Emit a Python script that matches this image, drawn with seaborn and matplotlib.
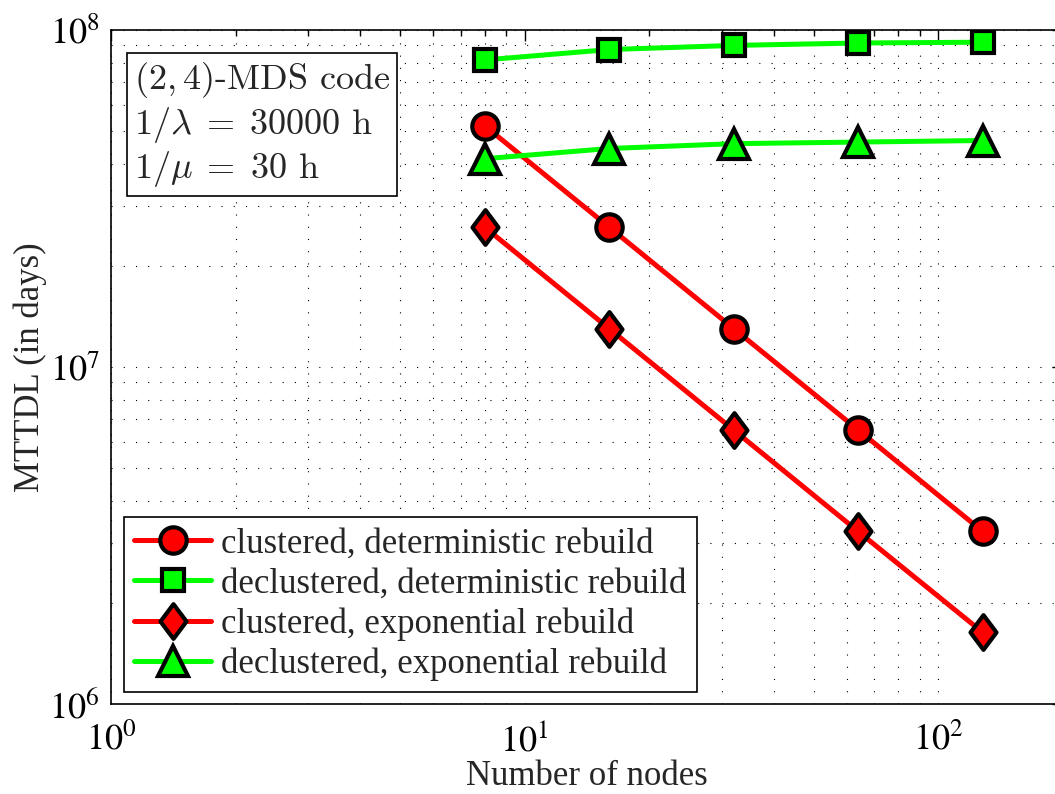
import numpy as np
import pandas as pd
import seaborn as sns
import matplotlib
matplotlib.use("Agg")
import matplotlib.pyplot as plt
from matplotlib.path import Path
from matplotlib.ticker import LogLocator, FuncFormatter, NullFormatter

# Number of nodes
nodes = [8, 16, 32, 64, 128]

# MTTDL in days for each configuration
clustered_det = [5.2e7, 2.6e7, 1.3e7, 6.5e6, 3.25e6]
declustered_det = [8.15e7, 8.75e7, 9.0e7, 9.15e7, 9.2e7]
clustered_exp = [2.6e7, 1.3e7, 6.5e6, 3.25e6, 1.63e6]
declustered_exp = [4.15e7, 4.45e7, 4.6e7, 4.65e7, 4.7e7]

labels = [
    "clustered, deterministic rebuild",
    "declustered, deterministic rebuild",
    "clustered, exponential rebuild",
    "declustered, exponential rebuild",
]
series = [clustered_det, declustered_det, clustered_exp, declustered_exp]
colors = ["#ff0000", "#00ff00", "#ff0000", "#00ff00"]

# MATLAB-style diamond: taller than wide
diamond = Path([(0, 1), (0.75, 0), (0, -1), (-0.75, 0), (0, 1)],
               [Path.MOVETO, Path.LINETO, Path.LINETO, Path.LINETO, Path.CLOSEPOLY])
markers = ["o", "s", diamond, "^"]
msizes = [19, 16, 25, 21]

sns.set_theme(style="white")
plt.rcParams["font.family"] = ["Liberation Serif", "DejaVu Serif"]
plt.rcParams["mathtext.fontset"] = "stix"

fig = plt.figure(figsize=(10.55, 7.94), dpi=100)
ax = fig.add_axes([111 / 1055, 90 / 794, 952 / 1055, 674 / 794])

for lab, vals, col, mk, ms in zip(labels, series, colors, markers, msizes):
    df = pd.DataFrame({"nodes": nodes, "mttdl": vals})
    sns.lineplot(data=df, x="nodes", y="mttdl", ax=ax, color=col, linewidth=3.6,
                 marker=mk, markersize=ms, markerfacecolor=col,
                 markeredgecolor="black", markeredgewidth=3, label=lab)

ax.set_xscale("log")
ax.set_yscale("log")
ax.set_xlim(1, 200)
ax.set_ylim(1e6, 1e8)


def pow10(v, pos):
    e = int(round(np.log10(v)))
    return r"$10^{%d}$" % e


ax.xaxis.set_major_locator(LogLocator(base=10, numticks=10))
ax.yaxis.set_major_locator(LogLocator(base=10, numticks=10))
ax.xaxis.set_minor_locator(LogLocator(base=10, subs=np.arange(2, 10), numticks=20))
ax.yaxis.set_minor_locator(LogLocator(base=10, subs=np.arange(2, 10), numticks=20))
ax.xaxis.set_major_formatter(FuncFormatter(pow10))
ax.yaxis.set_major_formatter(FuncFormatter(pow10))
ax.xaxis.set_minor_formatter(NullFormatter())
ax.yaxis.set_minor_formatter(NullFormatter())

ax.grid(True, which="both", color="black", linestyle=(0, (1, 10)), linewidth=0.8)
ax.set_axisbelow(True)

ax.tick_params(which="both", direction="in", top=True, right=True, colors="black",
               labelsize=26, width=1.0)
ax.tick_params(which="major", length=8)
ax.tick_params(axis="x", which="major", pad=14)
ax.tick_params(axis="y", which="major", pad=8)
ax.tick_params(which="minor", length=4)
for sp in ax.spines.values():
    sp.set_color("black")
    sp.set_linewidth(1.2)

ax.set_xlabel("Number of nodes", fontsize=25, labelpad=1)
ax.set_ylabel("MTTDL (in days)", fontsize=25, labelpad=2)

leg = ax.legend(loc="lower left", bbox_to_anchor=(0.0137, 0.018), fontsize=25,
                frameon=True, fancybox=False, edgecolor="black", framealpha=1,
                handlelength=2.2, handletextpad=0.3, labelspacing=0.2,
                borderpad=0.3, borderaxespad=0)
leg.get_frame().set_linewidth(1.2)

ax.text(0.024, 0.955,
        "$(2,4)$-MDS code\n$1/\\lambda\\;=\\;30000$ h\n$1/\\mu\\;=\\;30$ h",
        transform=ax.transAxes, ha="left", va="top", fontsize=26,
        family="cmr10", math_fontfamily="cm", linespacing=1.15,
        bbox=dict(boxstyle="square,pad=0.2", facecolor="white",
                  edgecolor="black", linewidth=1.2))

fig.savefig("out.png", dpi=100)
